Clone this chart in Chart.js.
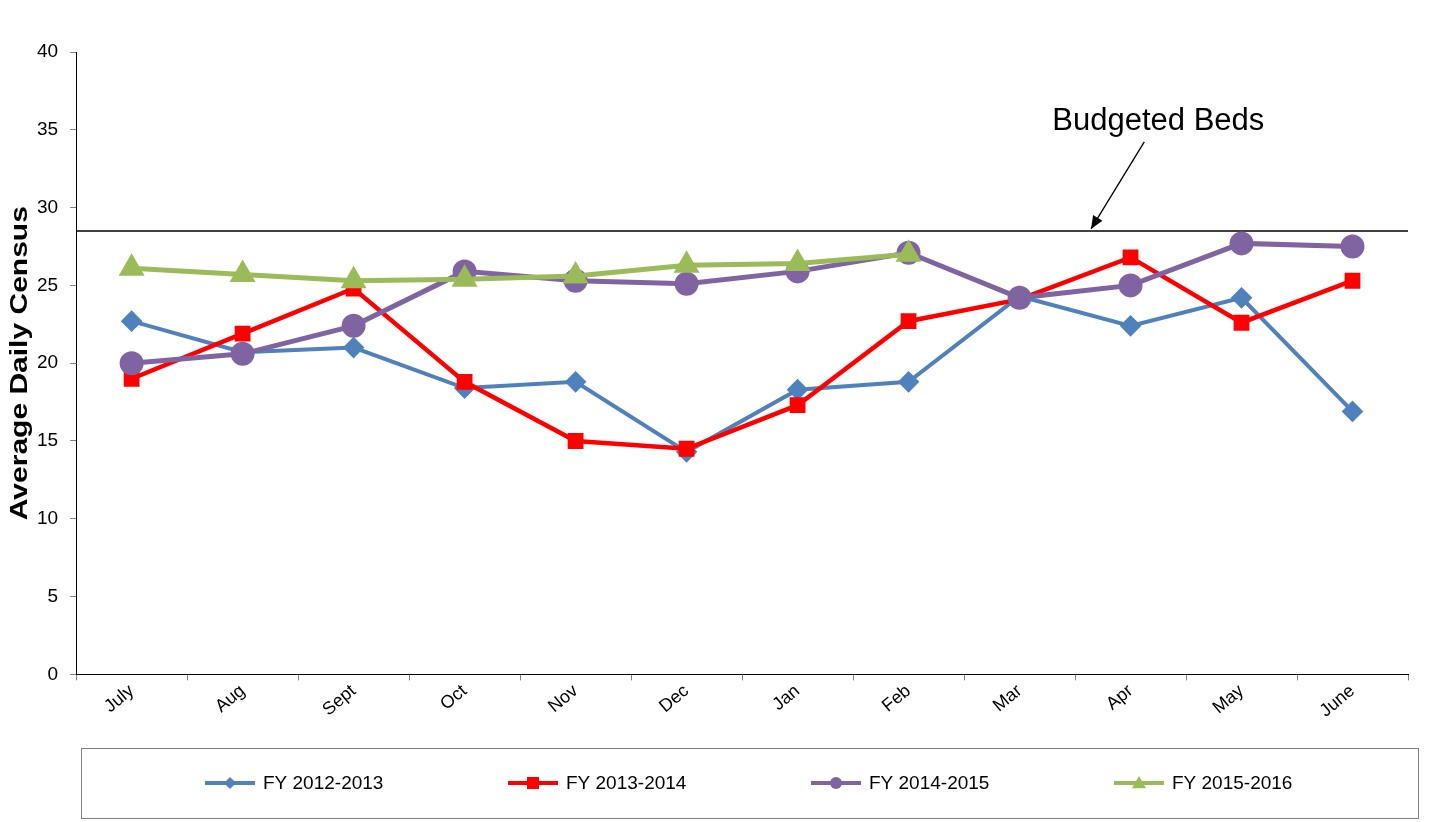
<!DOCTYPE html>
<html>
<head>
<meta charset="utf-8">
<script src="https://cdn.jsdelivr.net/npm/chart.js@4.4.1/dist/chart.umd.min.js"></script>
<style>
html, body { margin: 0; padding: 0; background: #fff; }
#wrap { width: 1430px; height: 822px; position: relative; }
</style>
</head>
<body>
<div id="wrap"><canvas id="censusChart"></canvas></div>
<script>
const months = ['July', 'Aug', 'Sept', 'Oct', 'Nov', 'Dec', 'Jan', 'Feb', 'Mar', 'Apr', 'May', 'June'];
const fy1213 = [22.7, 20.7, 21.0, 18.4, 18.8, 14.3, 18.3, 18.8, 24.3, 22.4, 24.2, 16.9];
const fy1314 = [19.0, 21.9, 24.8, 18.8, 15.0, 14.5, 17.3, 22.7, 24.1, 26.8, 22.6, 25.3];
const fy1415 = [20.0, 20.6, 22.4, 25.9, 25.3, 25.1, 25.9, 27.1, 24.2, 25.0, 27.7, 27.5];
const fy1516 = [26.1, 25.7, 25.3, 25.4, 25.6, 26.3, 26.4, 27.0, null, null, null, null];
const budgetedBeds = 28.5;
const yTicks = [0, 5, 10, 15, 20, 25, 30, 35, 40];
const yTitle = 'Average Daily Census';

Chart.defaults.font.family = "'Liberation Sans', Arial, sans-serif";
Chart.defaults.color = '#000';

// horizontal budget line + callout
const budgetPlugin = {
    id: 'budget',
    beforeDatasetsDraw(chart) {
        const { ctx, chartArea, scales } = chart;
        const y = scales.y.getPixelForValue(budgetedBeds);
        ctx.save();
        ctx.strokeStyle = '#000';
        ctx.lineWidth = 1.5;
        ctx.beginPath();
        ctx.moveTo(chartArea.left, y);
        ctx.lineTo(chartArea.right, y);
        ctx.stroke();

        const w = chartArea.right - chartArea.left;
        const headX = chartArea.left + w * 0.762;
        const tailX = chartArea.left + w * 0.802;
        const tailY = y - 89;
        ctx.lineWidth = 1.3;
        ctx.beginPath();
        ctx.moveTo(tailX, tailY);
        ctx.lineTo(headX, y - 2);
        ctx.stroke();
        const ang = Math.atan2((y - 2) - tailY, headX - tailX);
        ctx.beginPath();
        ctx.moveTo(headX, y - 2);
        ctx.lineTo(headX - 14 * Math.cos(ang - 0.4), y - 2 - 14 * Math.sin(ang - 0.4));
        ctx.lineTo(headX - 14 * Math.cos(ang + 0.4), y - 2 - 14 * Math.sin(ang + 0.4));
        ctx.closePath();
        ctx.fillStyle = '#000';
        ctx.fill();

        ctx.font = "31px 'Liberation Sans', Arial, sans-serif";
        ctx.textAlign = 'center';
        ctx.textBaseline = 'middle';
        ctx.fillText('Budgeted Beds', tailX + 14, tailY - 20);
        ctx.restore();
    }
};

// y title drawn by hand so it can be stretched like the original
const yTitlePlugin = {
    id: 'yTitle',
    afterDraw(chart) {
        const { ctx, chartArea } = chart;
        ctx.save();
        ctx.translate(20, (chartArea.top + chartArea.bottom) / 2);
        ctx.rotate(-Math.PI / 2);
        ctx.scale(1.25, 1);
        ctx.font = "bold 24px 'Liberation Sans', Arial, sans-serif";
        ctx.fillStyle = '#000';
        ctx.textAlign = 'center';
        ctx.textBaseline = 'middle';
        ctx.fillText(yTitle, 0, 0);
        ctx.restore();
    }
};

function drawMarker(ctx, style, x, y, r) {
    ctx.beginPath();
    if (style === 'rectRot') {
        ctx.moveTo(x, y - r); ctx.lineTo(x + r, y); ctx.lineTo(x, y + r); ctx.lineTo(x - r, y);
    } else if (style === 'rect') {
        ctx.rect(x - r, y - r, 2 * r, 2 * r);
    } else if (style === 'triangle') {
        ctx.moveTo(x, y - r); ctx.lineTo(x + r, y + r * 0.75); ctx.lineTo(x - r, y + r * 0.75);
    } else {
        ctx.arc(x, y, r, 0, Math.PI * 2);
    }
    ctx.closePath();
    ctx.fill();
}

// boxed legend under the chart, like the excel one
const boxLegend = {
    id: 'boxLegend',
    afterDraw(chart) {
        const { ctx, width, height } = chart;
        const bx = 81, by = height - 74, bw = width - 12 - bx, bh = 70;
        ctx.save();
        ctx.strokeStyle = '#7f7f7f';
        ctx.lineWidth = 1;
        ctx.strokeRect(bx + 0.5, by + 0.5, bw, bh);

        const step = 303;
        const sets = chart.data.datasets.filter(d => d.label);
        const start = bx + bw / 2 - (step * (sets.length - 1) + 180) / 2;
        const cy = by + bh / 2;
        ctx.font = "19px 'Liberation Sans', Arial, sans-serif";
        ctx.textBaseline = 'middle';
        ctx.textAlign = 'left';
        sets.forEach((ds, i) => {
            const x = start + i * step;
            ctx.strokeStyle = ds.borderColor;
            ctx.fillStyle = ds.borderColor;
            ctx.lineWidth = 4;
            ctx.beginPath();
            ctx.moveTo(x, cy);
            ctx.lineTo(x + 50, cy);
            ctx.stroke();
            drawMarker(ctx, ds.pointStyle, x + 25, cy, ds.legendR);
            ctx.fillStyle = '#000';
            ctx.fillText(ds.label, x + 58, cy + 1);
        });
        ctx.restore();
    }
};

const ctx = document.getElementById('censusChart');

new Chart(ctx, {
    type: 'line',
    data: {
        labels: months,
        datasets: [
            {
                label: 'FY 2012-2013',
                data: fy1213,
                borderColor: '#4F81BD',
                backgroundColor: '#4F81BD',
                borderWidth: 4,
                pointStyle: 'rectRot',
                pointRadius: 8,
                legendR: 6,
                order: 4
            },
            {
                label: 'FY 2013-2014',
                data: fy1314,
                borderColor: '#FF0000',
                backgroundColor: '#FF0000',
                borderWidth: 4.5,
                pointStyle: 'rect',
                pointRadius: 8,
                legendR: 6,
                order: 3
            },
            {
                label: 'FY 2014-2015',
                data: fy1415,
                borderColor: '#8064A2',
                backgroundColor: '#8064A2',
                borderWidth: 5,
                pointStyle: 'circle',
                pointRadius: 9.5,
                legendR: 6,
                order: 2
            },
            {
                label: 'FY 2015-2016',
                data: fy1516,
                borderColor: '#9BBB59',
                backgroundColor: '#9BBB59',
                borderWidth: 5,
                pointStyle: 'triangle',
                pointRadius: 10,
                legendR: 7,
                order: 1
            }
        ]
    },
    options: {
        responsive: true,
        maintainAspectRatio: false,
        animation: false,
        layout: { padding: { top: 52, right: 22, bottom: 100, left: 25 } },
        plugins: {
            legend: { display: false },
            tooltip: { enabled: false }
        },
        elements: {
            line: { tension: 0 },
            point: { borderWidth: 0 }
        },
        scales: {
            x: {
                offset: true,
                border: { color: '#000', width: 1 },
                grid: {
                    offset: true,
                    drawOnChartArea: false,
                    color: '#808080',
                    tickLength: 6
                },
                ticks: {
                    font: { size: 18 },
                    color: '#000',
                    maxRotation: 40,
                    minRotation: 40,
                    padding: 0
                }
            },
            y: {
                min: 0,
                max: 40,
                afterBuildTicks(axis) {
                    axis.ticks = yTicks.map(v => ({ value: v }));
                },
                border: { color: '#000', width: 1 },
                grid: {
                    drawOnChartArea: false,
                    color: '#808080',
                    tickLength: 6
                },
                ticks: {
                    font: { size: 19 },
                    color: '#000',
                    padding: 12
                }
            }
        }
    },
    plugins: [budgetPlugin, yTitlePlugin, boxLegend]
});
</script>
</body>
</html>
